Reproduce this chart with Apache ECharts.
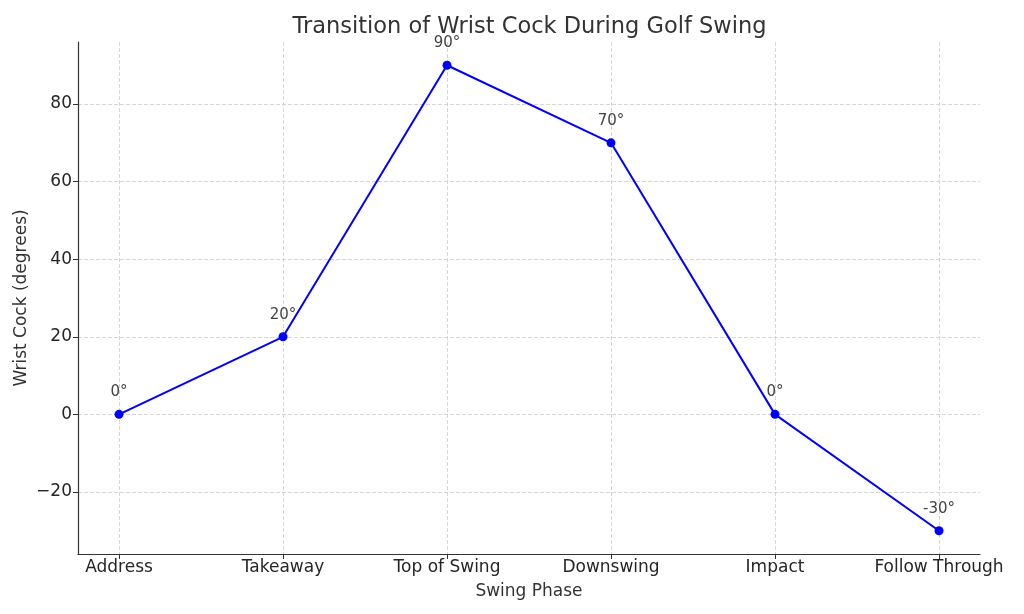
<!DOCTYPE html>
<html>
<head>
<meta charset="utf-8">
<script src="https://cdn.jsdelivr.net/npm/echarts@6/dist/echarts.min.js"></script>
<style>html,body{margin:0;padding:0;background:#fff}#c{width:1024px;height:614px}</style>
</head>
<body>
<div id="c"></div>
<script>
const categories = ['Address', 'Takeaway', 'Top of Swing', 'Downswing', 'Impact', 'Follow Through'];
const wristCock = [0, 20, 90, 70, 0, -30];
const yTicks = [-20, 0, 20, 40, 60, 80];

const FONT = '"DejaVu Sans", sans-serif';
const chart = echarts.init(document.getElementById('c'), null, {renderer: 'canvas'});
const xIdx = categories.map((c, i) => i);
chart.setOption({
  animation: false,
  title: {
    text: 'Transition of Wrist Cock During Golf Swing',
    left: 524.5, top: 11, textAlign: 'center',
    textStyle: {fontFamily: FONT, fontSize: 22.5, fontWeight: 'normal', color: '#333'}
  },
  grid: {left: 78, right: 44, top: 42, bottom: 60, containLabel: false},
  xAxis: {
    type: 'value', min: -0.25, max: 5.25,
    name: 'Swing Phase', nameLocation: 'middle', nameGap: 29, nameMoveOverlap: false,
    nameTextStyle: {fontFamily: FONT, fontSize: 17, color: '#333'},
    axisLine: {show: true, onZero: false, lineStyle: {color: '#333', width: 1.2}},
    axisTick: {show: true, customValues: xIdx, length: 5, lineStyle: {color: '#333'}},
    axisLabel: {customValues: xIdx, formatter: v => categories[Math.round(v)] || '', fontFamily: FONT, fontSize: 17, color: '#262626', margin: 5},
    splitLine: {show: true, customValues: xIdx, lineStyle: {color: '#ccc', type: [4, 2], width: 0.8}}
  },
  yAxis: {
    type: 'value', min: -36, max: 96,
    name: 'Wrist Cock (degrees)', nameLocation: 'middle', nameGap: 48, nameRotate: 90, nameMoveOverlap: false,
    nameTextStyle: {fontFamily: FONT, fontSize: 17, color: '#333'},
    axisLine: {show: true, onZero: false, lineStyle: {color: '#333', width: 1.2}},
    axisTick: {show: true, customValues: yTicks, length: 5, lineStyle: {color: '#333'}},
    axisLabel: {customValues: yTicks, formatter: v => v < 0 ? '\u2212' + Math.abs(v) : String(v), fontFamily: FONT, fontSize: 17, color: '#262626', margin: 6},
    splitLine: {show: true, customValues: yTicks, lineStyle: {color: '#ccc', type: [4, 2], width: 0.8}}
  },
  series: [{
    type: 'line',
    data: wristCock.map((v, i) => [i, v]),
    symbol: 'circle', symbolSize: 9,
    lineStyle: {color: '#0000ff', width: 2},
    itemStyle: {color: '#0000ff'},
    label: {
      show: true, position: 'top', distance: 10,
      formatter: p => p.value[1] + '°',
      fontFamily: FONT, fontSize: 15, color: '#444'
    }
  }]
});
</script>
</body>
</html>
